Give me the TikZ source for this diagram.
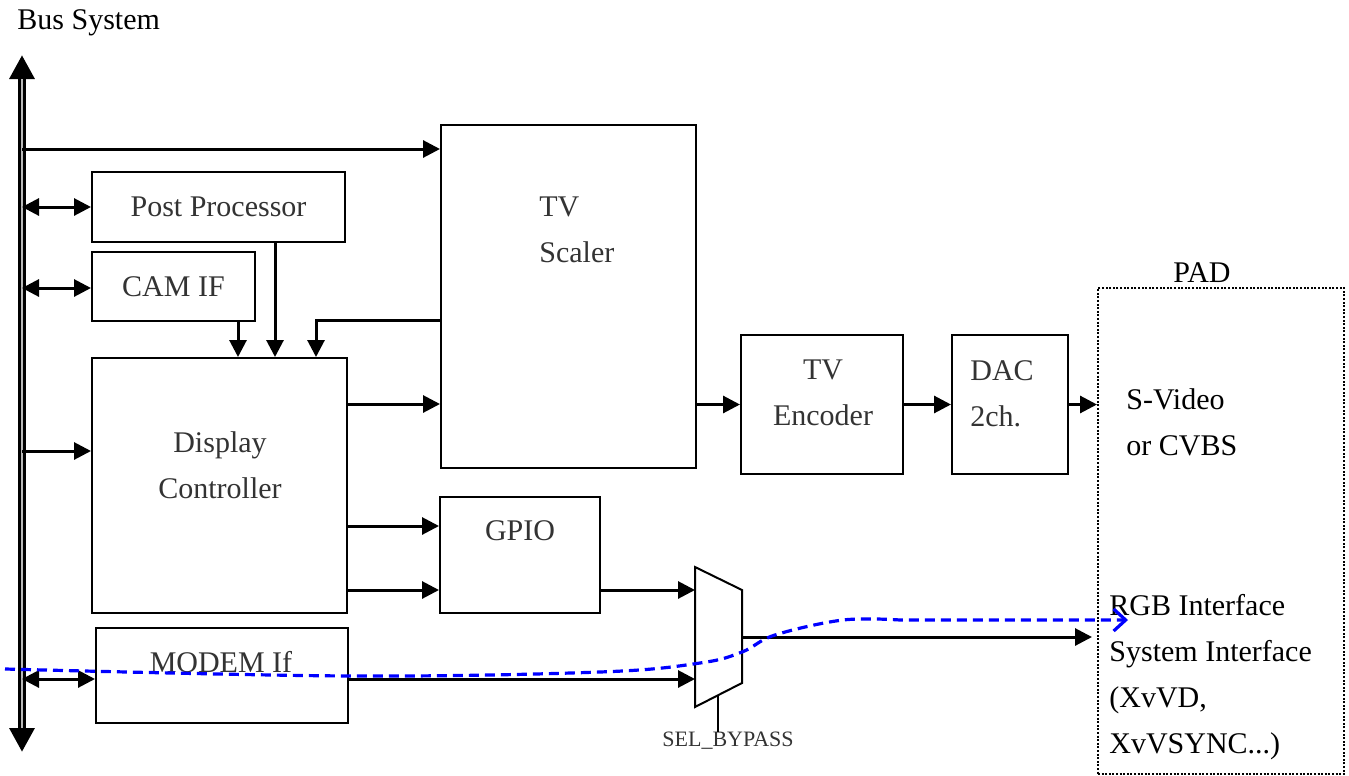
\documentclass[tikz,border=0pt]{standalone}
\usepackage{fontspec}
\setmainfont{Liberation Serif}
\usetikzlibrary{arrows.meta,positioning,calc}

\begin{document}
\begin{tikzpicture}[
  x=0.5pt, y=-0.5pt,
  every node/.style={font=\fontsize{15}{23}\selectfont},
  blk/.style    ={draw, line width=1pt, inner sep=0pt, text=black!80},
  lbl/.style    ={inner sep=0pt, text=black!80},
  padtxt/.style ={inner sep=0pt, align=left, anchor=north west},
  padbox/.style ={draw, line width=1pt, dash pattern=on 1pt off 0.8pt, inner sep=0pt},
  arr/.style    ={-{Triangle[length=8.5pt,width=8.5pt]}, line width=1.5pt},
  biarr/.style  ={{Triangle[length=8.5pt,width=8.5pt]}-{Triangle[length=8.5pt,width=8.5pt]}, line width=1.5pt},
  bus/.style    ={{Triangle[length=12pt,width=12pt]}-{Triangle[length=12pt,width=12pt]}, line width=3.6pt},
  bypass/.style ={-{Straight Barb[length=6pt,width=11pt]}, blue, line width=1.6pt,
                  dash pattern=on 5pt off 3pt},
]
  \useasboundingbox (0,0) rectangle (1349,776);

  \node[anchor=west, inner sep=0pt] (bustitle) at (17,23) {Bus System};
  \coordinate (bustop) at (22,55);
  \coordinate (busbot) at (22,752);

  \node[blk, minimum width=126.5pt, minimum height=35pt]   (pp)     at (218.5,207)   {Post Processor};
  \node[blk, minimum width=81.5pt,  minimum height=34.5pt] (cam)    at (173.5,286.5) {CAM IF};
  \node[blk, minimum width=127.5pt, minimum height=127.5pt](disp)   at (219.5,485.5) {};
  \node[blk, minimum width=126pt,   minimum height=47.5pt] (modem)  at (222,675.5)   {};
  \node[blk, minimum width=127.5pt, minimum height=171.5pt](scaler) at (568.5,296.5) {};
  \node[blk, minimum width=80pt,    minimum height=58pt]   (gpio)   at (520,555)     {};
  \node[blk, minimum width=81pt,    minimum height=69.5pt] (enc)    at (822,404.5)   {};
  \node[blk, minimum width=58pt,    minimum height=69.5pt] (dac)    [right=23.5pt of enc] {};
  \node[padbox, minimum width=123pt, minimum height=243pt] (pad)    at (1221,531)    {};
  \node[inner sep=0pt] (padlbl) [above=2pt of pad, xshift=-9.5pt] {PAD};

  \node[lbl, align=center, anchor=north]      (disptxt)   at (220,431) {Display\\Controller};
  \node[lbl]                                  (modemtxt)  at (221,662) {MODEM If};
  \node[lbl, align=left, anchor=north west]   (scalertxt) at (539,196) {TV\\Scaler};
  \node[lbl]                                  (gpiotxt)   at (520,531) {GPIO};
  \node[lbl, align=center, anchor=north]      (enctxt)    at (823,359) {TV\\Encoder};
  \node[lbl, align=left, anchor=north west]   (dactxt)    at (970,360) {DAC\\2ch.};
  \node[padtxt] (video) at (1126,388) {S-Video\\or CVBS};
  \node[padtxt] (rgb)   at (1109,594) {RGB Interface\\System Interface\\(XvVD,\\XvVSYNC...)};

  \coordinate (mtl) at (695,567);
  \coordinate (mtr) at (742,590);
  \coordinate (mbr) at (742,683);
  \coordinate (mbl) at (695,707);
  \draw[line width=1pt, fill=white] (mtl) -- (mtr) -- (mbr) -- (mbl) -- cycle;
  \coordinate (muxa)   at (695,590);
  \coordinate (muxb)   at (695,679);
  \coordinate (muxout) at (742,637);
  \coordinate (muxsel) at ($(mbl)!0.49!(mbr)$);
  \node[lbl, font=\fontsize{11}{13}\selectfont] (sel) at (728,741) {SEL\_BYPASS};

  \draw[bus] (bustop) -- (busbot);
  \draw[gray!55, line width=1pt] ($(bustop)+(0,24)$) -- ($(busbot)-(0,24)$);

  \draw[arr]   (bustop |- 0,149) -- (scaler.west |- 0,149);
  \draw[biarr] (bustop |- pp.west) -- (pp.west);
  \draw[biarr] (bustop |- 0,288) -- (cam.west |- 0,288);
  \draw[arr]   (bustop |- 0,451) -- (disp.west |- 0,451);
  \draw[biarr] (bustop |- 0,679) -- (modem.west |- 0,679);

  \draw[arr] (cam.south -| 238,0) -- (disp.north -| 238,0);
  \draw[arr] (pp.south -| 275,0)  -- (disp.north -| 275,0);
  \draw[arr] (scaler.west |- 0,320) -| (disp.north -| 316,0);

  \draw[arr] (disp.east |- 0,404) -- (scaler.west |- 0,404);
  \draw[arr] (disp.east |- 0,526) -- (gpio.west |- 0,526);
  \draw[arr] (disp.east |- 0,590) -- (gpio.west |- 0,590);
  \draw[arr] (gpio.east |- muxa)  -- (muxa);
  \draw[arr] (modem.east |- muxb) -- (muxb);
  \draw[arr, shorten >=2.5pt] (muxout) -- (pad.west |- muxout);
  \draw[line width=1pt] (muxsel) -- (muxsel |- sel.north);

  \draw[arr] (scaler.east |- enc.west) -- (enc.west);
  \draw[arr] (enc) -- (dac);
  \draw[arr] (dac.east) -- (pad.west |- dac.east);

  \coordinate (bypin)  at (5,669);
  \coordinate (bypout) at (1128,620);
  \draw[bypass] plot[smooth, tension=0.6] coordinates {(bypin) (350,676) (600,672) (700,663)
    (742,652) (775,635) (843,620) (900,620)} -- (bypout);
\end{tikzpicture}
\end{document}
